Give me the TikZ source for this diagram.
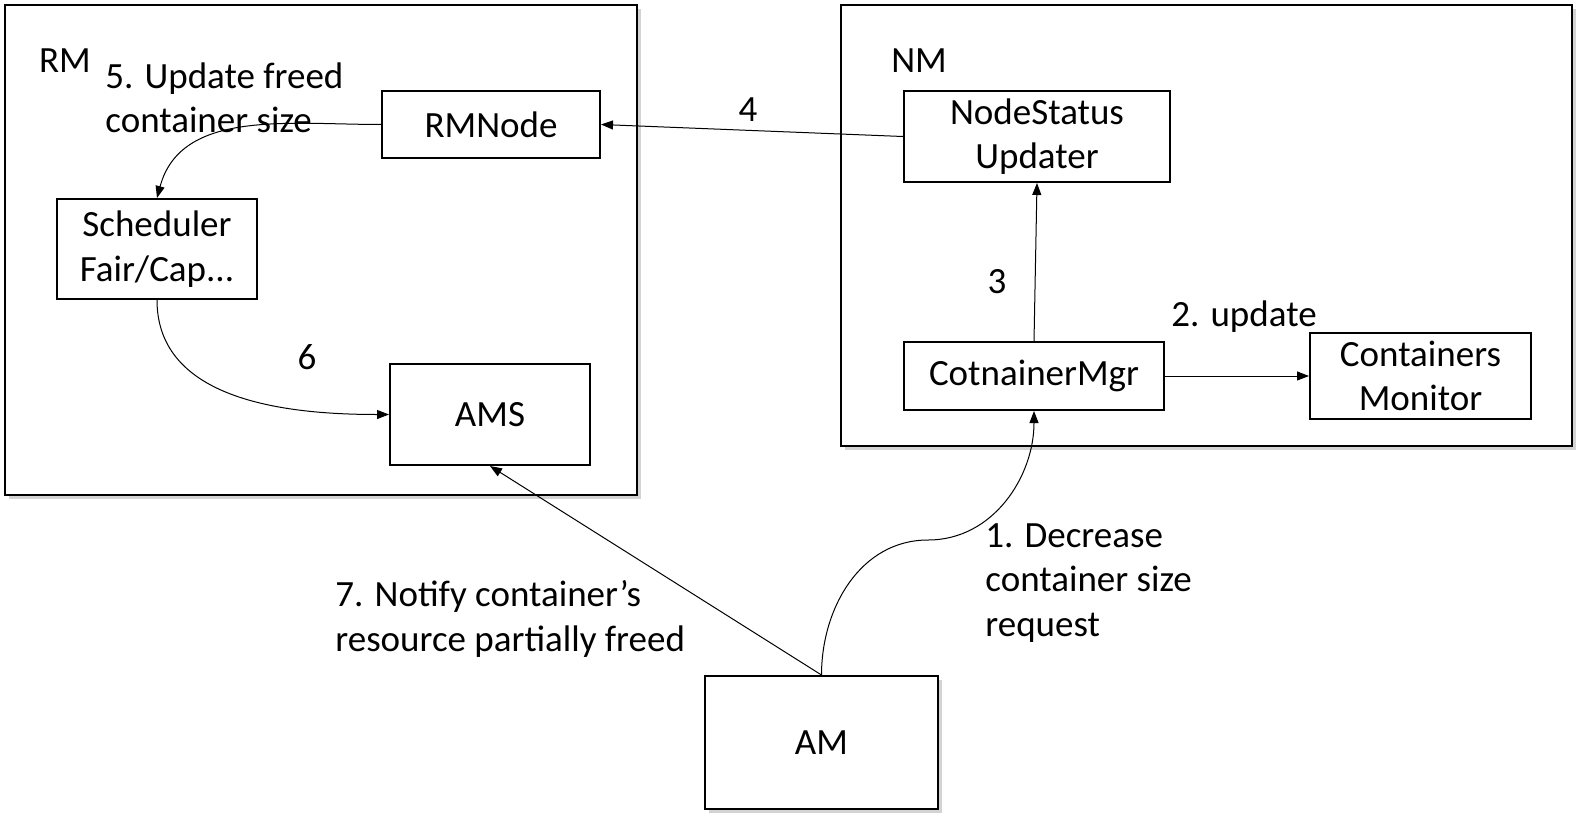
\documentclass[tikz,border=0pt]{standalone}
\usepackage{fontspec}
\setmainfont{Carlito}
\usetikzlibrary{arrows.meta,shadows}

\tikzset{
  box/.style={draw, line width=1pt, fill=white, align=center, inner sep=0pt},
  group/.style={box, drop shadow={shadow xshift=2pt, shadow yshift=-2pt, opacity=0.35}},
  flow/.style={-{Triangle[length=6pt,width=4.5pt]}, line width=0.5pt},
  lbl/.style={align=left, inner sep=0pt}
}

\begin{document}
\begin{tikzpicture}[x=0.5pt, y=-0.5pt, font=\fontsize{18.5}{22.2}\selectfont]
    \useasboundingbox (0,0) rectangle (1577,824);
    % outer groups
    \node[group, minimum width=316pt, minimum height=245pt] (rm) at (321,250) {};
    \node[group, minimum width=365.5pt, minimum height=220.5pt] (nm) at (1206.5,225.5) {};
    \node[group, minimum width=116.5pt, minimum height=66.5pt] (am) at (821.5,742.5) {AM};
    \node[lbl] (rmlabel) at (65,61) {RM};
    \node[lbl] (nmlabel) at (919,61) {NM};
    % RM components
    \node[box, minimum width=109pt, minimum height=33.5pt] (rmnode) at (491,124.5) {RMNode};
    \node[box, minimum width=100pt, minimum height=50pt] (sched) at (157,249) {Scheduler\\Fair/Cap...};
    \node[box, minimum width=100pt, minimum height=50.5pt] (ams) at (490,414.5) {AMS};
    % NM components
    \node[box, minimum width=133pt, minimum height=45.5pt] (nsu) at (1037,136.5) {NodeStatus\\Updater};
    \node[box, minimum width=130pt, minimum height=34pt] (cmgr) at (1034,376) {CotnainerMgr};
    \node[box, minimum width=110.5pt, minimum height=43pt] (cmon) at (1420.5,376) {Containers\\Monitor};
    % connectors
    \coordinate (bend) at (928,540);
    \draw[flow] (am.north) to[out=90, in=180] (bend) to[out=0, in=-90] (cmgr.south);
    \draw[flow] (cmgr.east) -- (cmon.west);
    \draw[flow] (cmgr.north) -- (nsu.south);
    \draw[flow] (nsu.west) -- (rmnode.east);
    \draw[flow] (rmnode.west) to[out=180, in=75] (sched.north);
    \draw[flow] (sched.south) to[out=-90, in=180] (ams.west);
    \draw[flow] (am.north) -- (ams.south);
    % step labels
    \node[lbl, anchor=west] (l1) at (985,583) {1. Decrease\\container size\\request};
    \node[lbl] (l2) at (1244,317) {2. update};
    \node[lbl] (l3) at (997,282) {3};
    \node[lbl] (l4) at (748,110) {4};
    \node[lbl, anchor=west] (l5) at (105,98) {5. Update freed\\container size};
    \node[lbl] (l6) at (307,357) {6};
    \node[lbl, anchor=west] (l7) at (335,619) {7. Notify container’s\\resource partially freed};
\end{tikzpicture}
\end{document}
